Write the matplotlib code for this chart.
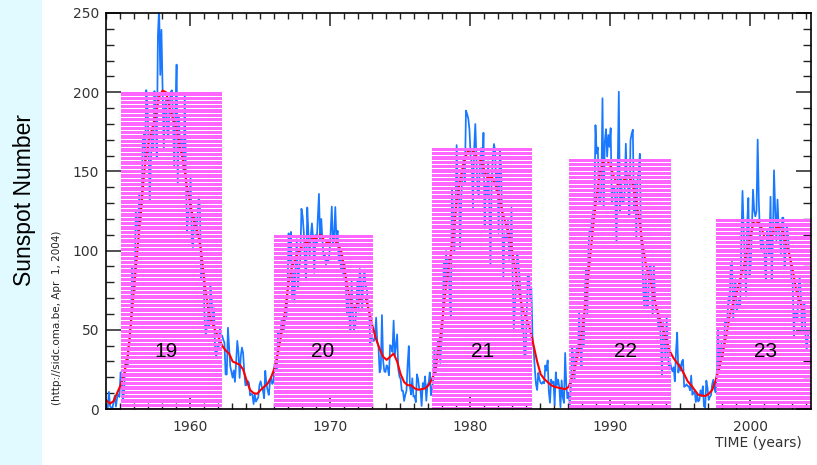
import numpy as np
import matplotlib
matplotlib.use("Agg")
import matplotlib.pyplot as plt
from matplotlib.ticker import MultipleLocator

# monthly sunspot number, Jan 1954 .. Mar 2004 (one row per year)
monthly = [
    0.2, 0.5, 10.9, 1.8, 0.8, 0.2, 4.8, 8.4, 1.5, 7.0, 9.2, 7.6,
    23.1, 20.8, 4.9, 11.3, 28.9, 31.7, 26.7, 40.7, 42.7, 58.5, 89.2, 76.9,
    73.6, 124.0, 118.4, 110.7, 136.6, 116.6, 129.1, 169.6, 173.2, 155.3, 201.3, 192.1,
    165.0, 130.2, 157.4, 175.2, 164.6, 200.7, 187.2, 158.0, 235.8, 253.8, 210.9, 239.4,
    202.5, 164.9, 190.7, 196.0, 175.3, 171.5, 191.4, 200.2, 201.2, 181.5, 152.3, 187.6,
    217.4, 143.1, 185.7, 163.3, 172.0, 168.7, 149.6, 199.6, 145.2, 111.4, 124.0, 125.0,
    146.3, 106.0, 102.2, 122.0, 119.6, 110.2, 121.7, 134.1, 127.2, 82.8, 89.6, 85.6,
    57.9, 46.1, 53.0, 61.4, 51.0, 77.4, 70.2, 55.8, 63.6, 37.7, 32.6, 39.9,
    38.7, 50.3, 45.6, 46.4, 43.7, 42.0, 21.8, 21.8, 51.3, 39.5, 26.9, 23.2,
    19.8, 24.4, 17.1, 29.3, 43.0, 35.9, 19.6, 33.2, 38.8, 35.3, 23.4, 14.9,
    15.3, 17.7, 16.5, 8.6, 9.5, 9.1, 3.1, 9.3, 4.7, 6.1, 7.4, 15.1,
    17.5, 14.2, 11.7, 6.8, 24.1, 15.9, 11.9, 8.9, 16.8, 20.1, 15.8, 17.0,
    28.2, 24.4, 25.3, 48.7, 45.3, 47.7, 56.7, 51.2, 50.2, 57.2, 57.2, 70.4,
    110.9, 93.6, 111.8, 69.5, 86.5, 67.3, 91.5, 107.2, 76.8, 88.2, 94.3, 126.4,
    121.8, 111.9, 92.2, 81.2, 127.2, 110.3, 96.1, 109.3, 117.2, 107.7, 86.0, 109.8,
    104.4, 120.5, 135.8, 106.8, 120.0, 106.0, 96.8, 98.0, 91.3, 95.7, 93.5, 97.9,
    111.5, 127.8, 102.9, 109.5, 127.5, 106.8, 112.5, 93.0, 99.5, 86.6, 95.2, 83.5,
    91.3, 79.0, 60.7, 71.8, 57.5, 49.8, 81.0, 61.4, 50.2, 51.7, 63.2, 82.2,
    61.5, 88.4, 80.1, 63.2, 80.5, 88.0, 76.5, 76.8, 64.0, 61.3, 41.6, 45.3,
    43.4, 42.9, 46.0, 57.7, 42.4, 39.5, 23.1, 25.6, 59.3, 30.7, 23.9, 23.3,
    27.6, 26.0, 21.3, 40.3, 39.5, 36.0, 55.8, 33.6, 40.2, 47.1, 25.0, 20.5,
    18.9, 11.5, 11.5, 5.1, 9.0, 11.4, 28.2, 39.7, 13.9, 9.1, 19.4, 7.8,
    8.1, 4.3, 21.9, 18.8, 12.4, 12.2, 1.9, 16.4, 13.5, 20.6, 5.2, 15.3,
    16.4, 23.1, 8.7, 12.9, 18.6, 38.5, 21.4, 30.1, 44.0, 43.8, 29.1, 43.2,
    51.9, 93.6, 76.5, 99.7, 82.7, 95.1, 70.4, 58.1, 138.2, 125.1, 97.9, 122.7,
    166.6, 137.5, 138.0, 101.5, 134.4, 149.5, 159.4, 142.2, 188.4, 186.2, 183.3, 176.3,
    159.6, 155.0, 126.2, 164.1, 179.9, 157.3, 136.3, 135.4, 155.0, 164.7, 147.9, 174.4,
    114.0, 141.3, 135.5, 156.4, 127.5, 90.0, 143.8, 158.7, 167.3, 162.4, 137.5, 150.1,
    111.2, 163.6, 153.8, 122.0, 82.2, 110.4, 106.1, 107.6, 118.8, 94.7, 98.1, 127.0,
    84.3, 51.0, 66.5, 80.7, 99.2, 91.1, 82.2, 71.8, 50.3, 55.8, 33.3, 33.4,
    57.0, 85.1, 83.5, 69.7, 76.4, 46.1, 37.4, 25.5, 15.7, 12.0, 22.8, 18.7,
    16.5, 15.9, 17.2, 16.2, 27.5, 24.2, 30.7, 11.1, 3.9, 18.6, 16.2, 17.3,
    2.5, 23.2, 15.1, 18.5, 13.7, 1.1, 18.1, 7.4, 3.8, 35.4, 15.2, 6.8,
    10.4, 2.4, 14.7, 39.6, 33.0, 17.4, 33.0, 38.7, 33.9, 60.6, 39.9, 27.1,
    59.0, 40.0, 76.2, 88.0, 60.1, 101.8, 113.8, 111.6, 120.1, 125.1, 125.1, 179.2,
    161.3, 165.1, 131.4, 130.6, 138.5, 196.2, 126.9, 168.9, 176.7, 159.4, 173.0, 165.5,
    177.3, 130.5, 140.3, 140.3, 132.2, 105.4, 149.4, 200.3, 125.2, 145.5, 131.4, 129.7,
    136.9, 167.5, 141.9, 140.0, 121.3, 169.7, 173.7, 176.3, 125.3, 144.1, 108.2, 144.4,
    150.0, 161.1, 106.7, 99.8, 73.8, 65.2, 85.7, 64.5, 63.9, 88.7, 91.8, 82.6,
    59.3, 91.0, 69.8, 62.2, 61.3, 49.8, 57.9, 42.3, 21.4, 54.3, 43.4, 31.9,
    58.2, 35.6, 24.9, 29.5, 25.9, 23.8, 26.4, 17.5, 36.0, 48.2, 23.0, 28.3,
    24.2, 29.9, 31.1, 14.0, 14.5, 15.6, 14.5, 14.3, 11.8, 21.1, 9.0, 10.0,
    11.5, 4.4, 9.2, 4.8, 5.5, 11.8, 8.2, 14.4, 1.6, 0.9, 17.9, 13.3,
    5.7, 7.6, 8.7, 15.5, 18.5, 12.7, 10.4, 24.4, 51.3, 22.8, 39.0, 41.2,
    31.9, 40.3, 54.8, 53.4, 56.3, 70.7, 66.6, 92.2, 92.9, 55.5, 74.0, 81.9,
    62.0, 66.3, 68.8, 63.7, 106.4, 137.7, 113.5, 93.7, 71.5, 116.7, 133.2, 84.6,
    90.1, 112.9, 138.5, 125.5, 121.6, 124.9, 170.1, 130.5, 109.7, 99.4, 106.8, 104.4,
    95.6, 80.6, 113.5, 107.7, 96.6, 134.0, 81.8, 106.4, 150.7, 125.5, 106.5, 132.2,
    114.1, 107.4, 98.4, 120.7, 120.8, 88.3, 99.6, 116.4, 109.6, 97.5, 95.0, 81.6,
    79.5, 46.2, 61.5, 60.0, 55.2, 77.4, 83.3, 72.7, 48.7, 65.5, 67.3, 46.5,
    37.3, 45.8, 49.1,
]

# smoothed sunspot number, one value every 3 months (Jan, Apr, Jul, Oct) from 1954
smoothed = [
    5.4, 3.4, 5.0, 10.0,
    15.0, 22.0, 33.0, 55.0,
    80.0, 105.0, 130.0, 155.0,
    168.0, 177.0, 185.0, 197.0,
    201.0, 200.0, 190.0, 183.0,
    177.0, 165.0, 155.0, 140.0,
    128.0, 118.0, 112.0, 100.0,
    80.0, 63.0, 55.0, 50.0,
    45.0, 40.0, 37.0, 35.0,
    30.0, 29.0, 28.0, 25.0,
    18.0, 12.0, 10.0, 9.6,
    12.0, 14.0, 16.0, 20.0,
    26.0, 36.0, 48.0, 62.0,
    80.0, 90.0, 95.0, 100.0,
    103.0, 105.0, 106.0, 108.0,
    108.0, 110.0, 107.0, 105.0,
    106.0, 107.0, 104.0, 100.0,
    88.0, 75.0, 66.0, 64.0,
    68.0, 71.0, 70.0, 62.0,
    52.0, 44.0, 38.0, 33.0,
    31.0, 33.0, 35.0, 30.0,
    22.0, 17.0, 15.0, 15.0,
    13.0, 12.2, 12.5, 13.0,
    15.0, 19.0, 26.0, 40.0,
    58.0, 78.0, 93.0, 110.0,
    130.0, 145.0, 155.0, 162.0,
    164.0, 162.0, 158.0, 157.0,
    150.0, 145.0, 147.0, 142.0,
    135.0, 125.0, 117.0, 110.0,
    98.0, 85.0, 72.0, 62.0,
    57.0, 50.0, 40.0, 30.0,
    22.0, 19.0, 17.0, 15.0,
    14.0, 13.5, 13.0, 12.5,
    14.0, 20.0, 28.0, 38.0,
    52.0, 70.0, 93.0, 115.0,
    135.0, 150.0, 157.0, 157.0,
    153.0, 146.0, 142.0, 143.0,
    145.0, 147.0, 144.0, 135.0,
    122.0, 106.0, 92.0, 83.0,
    75.0, 65.0, 57.0, 50.0,
    43.0, 36.0, 32.0, 29.0,
    26.0, 22.0, 17.5, 15.0,
    12.0, 9.0, 8.5, 8.2,
    9.5, 12.0, 18.0, 26.0,
    35.0, 46.0, 59.0, 67.0,
    73.0, 82.0, 90.0, 100.0,
    110.0, 119.0, 118.0, 115.0,
    108.0, 107.0, 110.0, 114.0,
    115.0, 113.0, 105.0, 98.0,
    88.0, 75.0, 68.0, 62.0,
]

# solar cycle blocks
cycles = ["19", "20", "21", "22", "23"]
cycle_start = [1955.1, 1966.0, 1977.3, 1987.1, 1997.6]
cycle_end = [1962.3, 1973.1, 1984.45, 1994.35, 2004.8]
cycle_max = [200, 110, 165, 158, 120]
label_year = [1958.3, 1969.5, 1980.9, 1991.1, 2001.1]

t_month = 1954 + (np.arange(len(monthly)) + 0.5) / 12
t_smooth = 1954 + (np.arange(len(smoothed)) * 3 + 0.5) / 12

fig = plt.figure(figsize=(8.17, 4.65), dpi=100)
fig.patch.set_facecolor("white")
fig.add_artist(plt.Rectangle((0, 0), 42 / 817, 1, transform=fig.transFigure,
                             facecolor="#e0faff", edgecolor="none", zorder=0))

ax = fig.add_axes([106 / 817, 56 / 465, 705 / 817, 396 / 465])

ax.plot(t_month, monthly, color="#1878ff", lw=1.25, zorder=2)
ax.plot(t_smooth, smoothed, color="#ff0000", lw=1.5, zorder=3)

# striped magenta blocks (strips let the curves show through the gaps)
pitch = 2.73
thick = 2.1
for x0, x1, h in zip(cycle_start, cycle_end, cycle_max):
    bottoms = h - thick - pitch * np.arange(int(h // pitch) + 1)
    bottoms = bottoms[bottoms > -thick]
    ax.bar((x0 + x1) / 2, thick, width=x1 - x0, bottom=bottoms,
           color="#ff66ff", linewidth=0, zorder=4)

for lab, x in zip(cycles, label_year):
    ax.text(x, 36, lab, fontsize=15, family="Liberation Sans",
            ha="center", va="center", zorder=5)

ax.set_xlim(1954.0, 2004.35)
ax.set_ylim(0, 250)

ax.xaxis.set_major_locator(MultipleLocator(10))
ax.xaxis.set_minor_locator(MultipleLocator(1))
ax.yaxis.set_major_locator(MultipleLocator(50))
ax.yaxis.set_minor_locator(MultipleLocator(10))
ax.tick_params(which="both", direction="in", top=True, right=True, color="#222222",
               labelsize=10, labelcolor="#333333", zorder=6)
ax.tick_params(axis="x", which="major", length=9, width=1.1, pad=8)
ax.tick_params(axis="x", which="minor", length=4.5, width=1)
ax.tick_params(axis="y", which="major", length=10.5, width=1.1, pad=5)
ax.tick_params(axis="y", which="minor", length=5.5, width=1)
for sp in ax.spines.values():
    sp.set_linewidth(1.2)
    sp.set_zorder(6)

fig.text(25 / 817, 1 - 200 / 465, "Sunspot Number", rotation=90, fontsize=16.5,
         family="Liberation Sans", ha="center", va="center")
fig.text(57 / 817, 1 - 318 / 465, "(http://sidc.oma.be, Apr  1, 2004)", rotation=90,
         fontsize=7.5, color="#222222", ha="center", va="center")
fig.text(802 / 817, 1 - 443 / 465, "TIME (years)", fontsize=10, color="#333333",
         ha="right", va="center")

fig.savefig("out.png", dpi=100)
